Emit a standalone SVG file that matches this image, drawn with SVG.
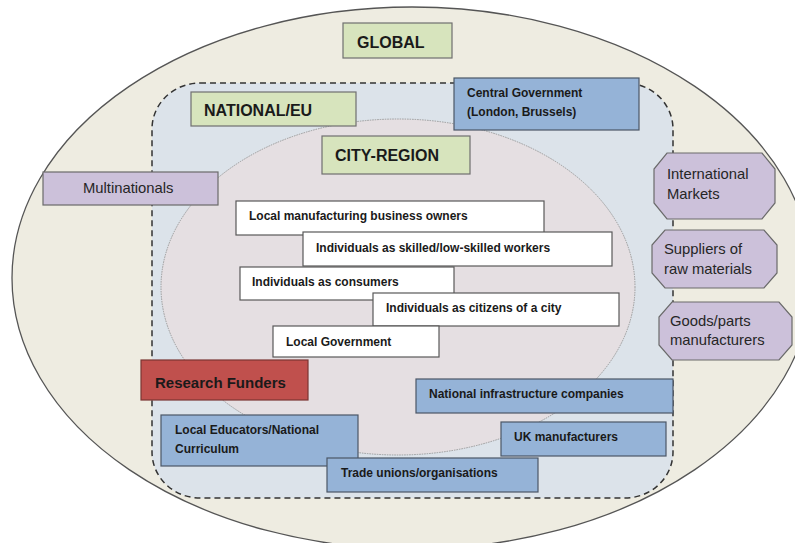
<svg xmlns="http://www.w3.org/2000/svg" width="795" height="543" viewBox="0 0 795 543">
<style>
  text { font-family: "Liberation Sans", Arial, sans-serif; fill: #1a1a1a; }
  .b { font-weight: bold; font-size: 12px; }
  .h { font-weight: bold; font-size: 16px; }
  .p { font-size: 14.8px; fill: #262626; }
  .green { fill: #d7e4bd; stroke: #6f6f6f; stroke-width: 1.2; }
  .blue { fill: #95b3d7; stroke: #4b5666; stroke-width: 1.2; }
  .purple { fill: #ccc1da; stroke: #6a6a6a; stroke-width: 1.2; }
  .white { fill: #ffffff; stroke: #595959; stroke-width: 1.2; }
  .red { fill: #c0504d; stroke: #7a3533; stroke-width: 1.2; }
</style>
<rect width="795" height="543" fill="#ffffff"/>
<g id="zones">
  <ellipse id="global-zone" cx="412" cy="278" rx="400" ry="271" fill="#eeece1" stroke="#555555" stroke-width="1.3"/>
  <rect id="national-zone" x="152" y="83" width="521" height="415" rx="48" ry="46" fill="#dce3ea" stroke="#333333" stroke-width="1.5" stroke-dasharray="6 4"/>
  <ellipse id="city-zone" cx="398" cy="287" rx="237" ry="168" fill="#e5dfe2" stroke="#9a9a9a" stroke-width="1" stroke-dasharray="1.5 1"/>
</g>
<g id="connectors"></g>
<g id="global">
  <rect class="green" x="343" y="23" width="109" height="35"/>
  <text class="h" x="357" y="48">GLOBAL</text>
</g>
<g id="national-eu">
  <rect class="green" x="191" y="92" width="165" height="34"/>
  <text class="h" x="204" y="116">NATIONAL/EU</text>
</g>
<g id="city-region">
  <rect class="green" x="322" y="136" width="148" height="38"/>
  <text class="h" x="335" y="161">CITY-REGION</text>
</g>
<g id="central-government">
  <rect class="blue" x="454" y="78" width="185" height="52"/>
  <text class="b" x="467" y="97">Central Government</text>
  <text class="b" x="467" y="116">(London, Brussels)</text>
</g>
<g id="multinationals">
  <rect class="purple" x="43" y="172" width="175" height="33"/>
  <text class="p" x="83" y="193">Multinationals</text>
</g>
<g id="international-markets">
  <polygon class="purple" points="667,153 762,153 775,169 775,203 762,219 667,219 654,203 654,169"/>
  <text class="p" x="667" y="179">International</text>
  <text class="p" x="667" y="198.5">Markets</text>
</g>
<g id="suppliers">
  <polygon class="purple" points="665,230 764,230 777,245 777,273 764,288 665,288 652,273 652,245"/>
  <text class="p" x="664" y="254">Suppliers of</text>
  <text class="p" x="664" y="273.5">raw materials</text>
</g>
<g id="goods-parts">
  <polygon class="purple" points="672,302 779,302 792,317 792,345 779,360 672,360 659,345 659,317"/>
  <text class="p" x="670" y="326">Goods/parts</text>
  <text class="p" x="670" y="345">manufacturers</text>
</g>
<g id="local-business-owners">
  <rect class="white" x="236" y="201" width="308" height="34"/>
  <text class="b" x="249" y="220">Local manufacturing business owners</text>
</g>
<g id="workers">
  <rect class="white" x="303" y="232" width="309" height="34"/>
  <text class="b" x="316" y="252">Individuals as skilled/low-skilled workers</text>
</g>
<g id="consumers">
  <rect class="white" x="240" y="267" width="214" height="33"/>
  <text class="b" x="252" y="286">Individuals as consumers</text>
</g>
<g id="citizens">
  <rect class="white" x="373" y="293" width="246" height="33"/>
  <text class="b" x="386" y="312">Individuals as citizens of a city</text>
</g>
<g id="local-government">
  <rect class="white" x="273" y="326" width="166" height="31"/>
  <text class="b" x="286" y="346">Local Government</text>
</g>
<g id="research-funders">
  <rect class="red" x="141" y="360" width="167" height="40"/>
  <text x="155" y="388" font-weight="bold" font-size="15px">Research Funders</text>
</g>
<g id="national-infrastructure">
  <rect class="blue" x="416" y="379" width="257" height="34"/>
  <text class="b" x="429" y="398">National infrastructure companies</text>
</g>
<g id="local-educators">
  <rect class="blue" x="161" y="415" width="197" height="51"/>
  <text class="b" x="175" y="434">Local Educators/National</text>
  <text class="b" x="175" y="453">Curriculum</text>
</g>
<g id="uk-manufacturers">
  <rect class="blue" x="501" y="422" width="165" height="34"/>
  <text class="b" x="514" y="441">UK manufacturers</text>
</g>
<g id="trade-unions">
  <rect class="blue" x="327" y="458" width="211" height="34"/>
  <text class="b" x="341" y="477">Trade unions/organisations</text>
</g>
</svg>
